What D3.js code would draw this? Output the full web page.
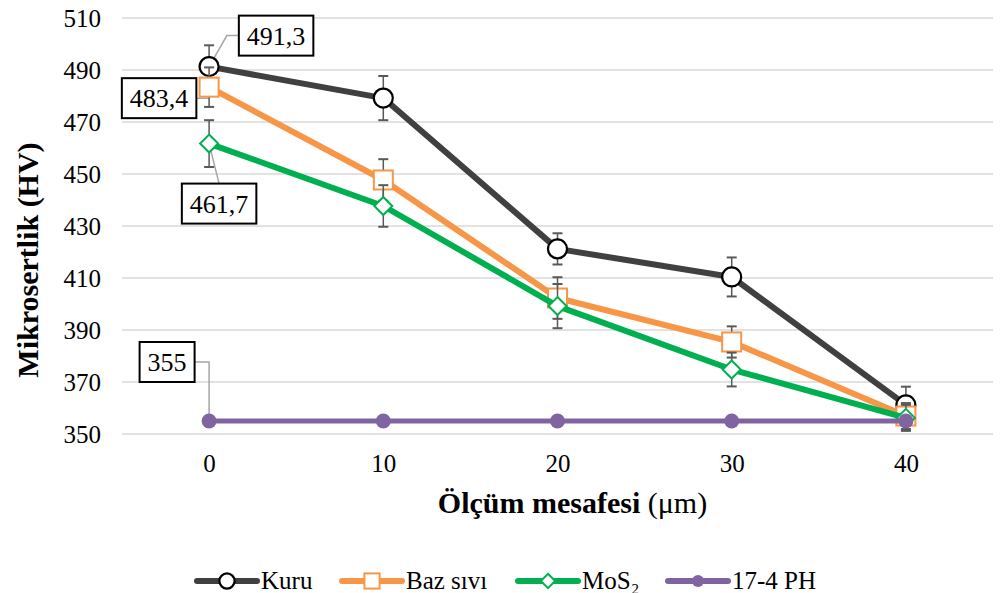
<!DOCTYPE html>
<html>
<head>
<meta charset="utf-8">
<script src="https://cdn.jsdelivr.net/npm/d3@7"></script>
<style>
  body { margin: 0; background: #fff; }
  svg, svg text { font-family: "Liberation Serif", serif; }
</style>
</head>
<body>
<div id="chart"></div>
<script>
// values
const distances = [0, 10, 20, 30, 40];
const kuru = [491.3, 479.2, 421.2, 410.4, 361.2];
const bazSivi = [483.4, 447.7, 402.3, 385.4, 356.9];
const mos2 = [461.7, 437.7, 399.2, 374.8, 356.2];
const ph174 = [355, 355, 355, 355, 355];
const kuruErr = [8.2, 8.5, 6, 7.5, 7];
const bazErr = [7.6, 8, 8, 6, 5];
const mos2Err = [9, 8, 8.5, 6.5, 5];
const yTicks = [350, 370, 390, 410, 430, 450, 470, 490, 510];

const width = 1006;
const height = 593;
const plot = { left: 122, right: 993, top: 18, bottom: 434 };
const serif = "'Liberation Serif', serif";

const series = [
    { name: "Kuru", values: kuru, err: kuruErr, color: "#404040", marker: "circle" },
    { name: "Baz sıvı", values: bazSivi, err: bazErr, color: "#F79646", marker: "square" },
    { name: "MoS₂", values: mos2, err: mos2Err, color: "#00B050", marker: "diamond" },
    { name: "17-4 PH", values: ph174, err: null, color: "#8064A2", marker: "dot" }
];

// which points get a value label, and where the box sits
const labels = [
    { s: 0, i: 0, dx: 67, dy: -31, side: "left" },
    { s: 1, i: 0, dx: -50, dy: 11, side: "right" },
    { s: 2, i: 0, dx: 10, dy: 60, side: "top" },
    { s: 3, i: 0, dx: -42, dy: -59, side: "right" }
];

const svg = d3.select("#chart").append("svg")
    .attr("width", width)
    .attr("height", height)
    .style("font-family", serif);

const x = d3.scalePoint()
    .domain(distances)
    .range([plot.left, plot.right])
    .padding(0.5);

const y = d3.scaleLinear()
    .domain([350, 510])
    .range([plot.bottom, plot.top]);

// gridlines
svg.append("g")
    .selectAll("line")
    .data(yTicks)
    .enter()
    .append("line")
    .attr("x1", plot.left)
    .attr("x2", plot.right)
    .attr("y1", d => y(d))
    .attr("y2", d => y(d))
    .attr("stroke", "#d9d9d9")
    .attr("stroke-width", 1.5);

// y axis labels
const yAxis = svg.append("g")
    .attr("transform", `translate(${plot.left - 6},0)`)
    .call(d3.axisLeft(y).tickValues(yTicks).tickSize(0).tickPadding(15))
    .attr("font-family", serif)
    .attr("font-size", 25);
yAxis.select(".domain").remove();
yAxis.selectAll("text").attr("fill", "#000");

// x axis labels
const xAxis = svg.append("g")
    .attr("transform", `translate(0,${plot.bottom})`)
    .call(d3.axisBottom(x).tickSize(0).tickPadding(20))
    .attr("font-family", serif)
    .attr("font-size", 25);
xAxis.select(".domain").remove();
xAxis.selectAll("text").attr("fill", "#000");

// axis titles
svg.append("text")
    .attr("transform", "translate(38,260) rotate(-90)")
    .attr("text-anchor", "middle")
    .style("font-size", "30px")
    .style("font-weight", "bold")
    .text("Mikrosertlik (HV)");

const xTitle = svg.append("text")
    .attr("x", (plot.left + plot.right) / 2 + 15)
    .attr("y", 513)
    .attr("text-anchor", "middle")
    .style("font-size", "30px");
xTitle.append("tspan").style("font-weight", "bold").text("Ölçüm mesafesi ");
xTitle.append("tspan").text("(μm)");

// leader lines under everything else
const leaderLayer = svg.append("g");

function drawMarker(g, type, cx, cy, color, scale) {
    const k = scale || 1;
    if (type === "circle") {
        g.append("circle").attr("cx", cx).attr("cy", cy).attr("r", 9.5 * k)
            .attr("fill", "#fff").attr("stroke", "#000").attr("stroke-width", 2.2);
    } else if (type === "square") {
        const s = 19 * k;
        g.append("rect").attr("x", cx - s / 2).attr("y", cy - s / 2)
            .attr("width", s).attr("height", s)
            .attr("fill", "#fff").attr("stroke", color).attr("stroke-width", 2);
    } else if (type === "diamond") {
        const r = 9 * k;
        g.append("path")
            .attr("d", `M${cx},${cy - r}L${cx + r},${cy}L${cx},${cy + r}L${cx - r},${cy}Z`)
            .attr("fill", "#fff").attr("stroke", color).attr("stroke-width", 2);
    } else {
        g.append("circle").attr("cx", cx).attr("cy", cy).attr("r", 7.5 * k)
            .attr("fill", color);
    }
}

const line = d3.line()
    .x((d, i) => x(distances[i]))
    .y(d => y(d));

series.forEach(s => {
    const g = svg.append("g");
    if (s.err) {
        s.values.forEach((v, i) => {
            const cx = x(distances[i]);
            const y1 = y(v + s.err[i]);
            const y2 = y(v - s.err[i]);
            g.append("line").attr("x1", cx).attr("x2", cx).attr("y1", y1).attr("y2", y2)
                .attr("stroke", "#595959").attr("stroke-width", 1.5);
            [y1, y2].forEach(yy => {
                g.append("line").attr("x1", cx - 5).attr("x2", cx + 5).attr("y1", yy).attr("y2", yy)
                    .attr("stroke", "#595959").attr("stroke-width", 2);
            });
        });
    }
    g.append("path")
        .attr("d", line(s.values))
        .attr("fill", "none")
        .attr("stroke", s.color)
        .attr("stroke-width", s.marker === "dot" ? 5 : 6)
        .attr("stroke-linejoin", "round");
    s.values.forEach((v, i) => drawMarker(g, s.marker, x(distances[i]), y(v), s.color));
});

// value labels
const labelLayer = svg.append("g");
labels.forEach(l => {
    const s = series[l.s];
    const v = s.values[l.i];
    const px = x(distances[l.i]);
    const py = y(v);
    const cx = px + l.dx;
    const cy = py + l.dy;
    const txt = labelLayer.append("text")
        .attr("x", cx)
        .attr("y", cy + 9)
        .attr("text-anchor", "middle")
        .style("font-size", "26px")
        .text(String(v).replace(".", ","));
    const w = txt.node().getComputedTextLength() + 16;
    const h = 40;
    labelLayer.insert("rect", "text")
        .attr("x", cx - w / 2)
        .attr("y", cy - h / 2)
        .attr("width", w)
        .attr("height", h)
        .attr("fill", "#fff")
        .attr("stroke", "#000")
        .attr("stroke-width", 2);

    let pts;
    if (l.side === "left") {
        pts = [[cx - w / 2, cy], [cx - w / 2 - 12, cy], [px, py]];
    } else if (l.side === "right") {
        pts = [[cx + w / 2, cy], [Math.max(cx + w / 2 + 6, px), cy], [px, py]];
    } else {
        pts = [[cx, cy - h / 2], [cx - 2, cy - h / 2 - 8], [px, py]];
    }
    leaderLayer.append("polyline")
        .attr("points", pts.map(p => p.join(",")).join(" "))
        .attr("fill", "none")
        .attr("stroke", "#a6a6a6")
        .attr("stroke-width", 1.5);
});

// legend
const legendX = [197, 342, 518, 668];
const legend = svg.append("g").attr("transform", "translate(0,581)");
series.forEach((s, i) => {
    const lx = legendX[i];
    legend.append("line")
        .attr("x1", lx).attr("x2", lx + 60)
        .attr("y1", 0).attr("y2", 0)
        .attr("stroke", s.color)
        .attr("stroke-width", 6)
        .attr("stroke-linecap", "round");
    drawMarker(legend, s.marker, lx + 30, 0, s.color, 0.8);
    legend.append("text")
        .attr("x", lx + 64)
        .attr("y", 8)
        .style("font-size", "25px")
        .text(s.name);
});
</script>
</body>
</html>
